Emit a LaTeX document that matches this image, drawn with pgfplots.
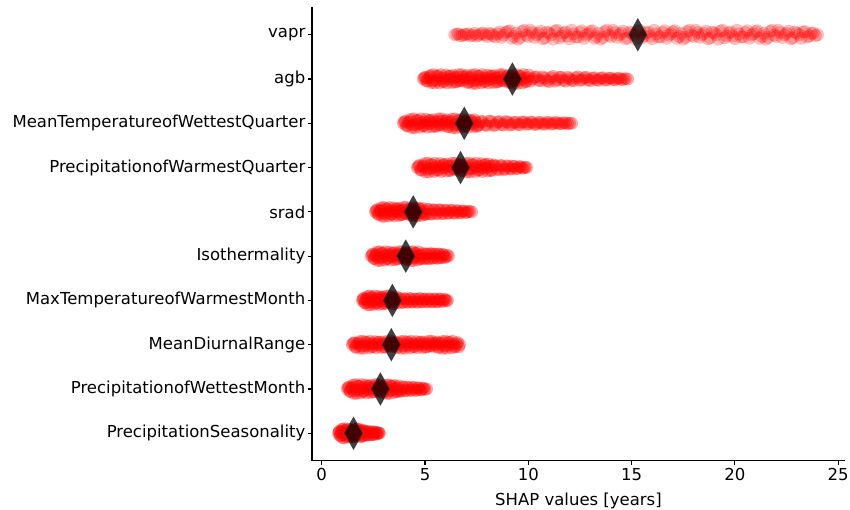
\documentclass[border=0pt]{standalone}
\usepackage{pgfplots}
\pgfplotsset{compat=1.18}
\usepackage{fontspec}
\setmainfont{DejaVu Sans}
\pgfplotsset{
  strip/.style={only marks, mark=*, mark size=6.2pt,
    mark options={draw=red, fill=red, fill opacity=0.33, draw opacity=0.12, line width=0.6pt}},
  lightstrip/.style={only marks, mark=*, mark size=6.2pt,
    mark options={draw=red, fill=red, fill opacity=0.24, draw opacity=0.14, line width=0.6pt}},
}
\begin{document}
\begin{tikzpicture}
\useasboundingbox (-312pt,-48.3pt) rectangle (538pt,460.7pt);
\begin{axis}[
  at={(0pt,0pt)}, anchor=south west,
  width=533pt, height=453.4pt, scale only axis,
  xmin=-0.47, xmax=25.33, ymin=-0.62, ymax=9.62,
  axis x line*=bottom, axis y line*=left,
  axis line style={black, line width=1.1pt, -},
  xtick={0,5,10,15,20,25},
  ytick={0,1,2,3,4,5,6,7,8,9},
  yticklabels={PrecipitationSeasonality, PrecipitationofWettestMonth, MeanDiurnalRange, MaxTemperatureofWarmestMonth, Isothermality, srad, PrecipitationofWarmestQuarter, MeanTemperatureofWettestQuarter, agb, vapr},
  tick align=outside, major tick length=4pt,
  every tick/.style={black, line width=1.1pt},
  tick label style={font=\fontsize{16.5}{19.8}\selectfont, black},
  yticklabel style={inner sep=2.5pt},
  /pgf/number format/assume math mode=true,
  xlabel={SHAP values [years]},
  xlabel style={font=\fontsize{16.5}{19.8}\selectfont, at={(axis description cs:0.5,0)}, anchor=base, yshift=-44.3pt, inner sep=0pt},
  clip=false,
]
% vapr
\addplot[lightstrip] coordinates {(6.44,9.00)(6.62,9.02)(6.8,8.98)(7.0,9.01)(7.2,8.97)(7.4,9.03)(7.6,8.99)(7.8,9.04)(8.0,8.96)(8.2,9.02)(8.4,8.95)(8.6,9.06)(8.8,8.99)(9.0,9.07)(9.2,8.92)(9.4,9.03)(9.6,8.94)(9.8,9.10)(10.0,8.96)(10.2,9.05)(10.4,9.00)(10.6,9.08)(10.8,8.93)(11.0,9.04)(11.2,8.90)(11.4,9.10)(11.6,8.97)(11.8,9.06)(12.0,8.91)(12.2,9.02)(12.4,8.95)(12.6,9.09)(12.8,8.99)(13.0,9.07)(13.2,8.92)(13.4,9.03)(13.6,8.94)(13.8,9.10)(14.0,8.96)(14.2,9.05)(14.4,9.00)(14.6,9.08)(14.8,8.93)(15.0,9.04)(15.2,8.90)(15.4,9.10)(15.6,8.97)(15.8,9.06)(16.0,8.91)(16.2,9.02)(16.4,8.95)(16.6,9.09)(16.8,8.99)(17.0,9.07)(17.2,8.92)(17.4,9.03)(17.6,8.94)(17.8,9.10)(18.0,8.96)(18.2,9.05)(18.4,9.00)(18.6,9.08)(18.8,8.93)(19.0,9.04)(19.2,8.90)(19.4,9.10)(19.6,8.97)(19.8,9.06)(20.0,8.91)(20.2,9.02)(20.4,8.95)(20.6,9.09)(20.8,8.99)(21.0,9.07)(21.2,8.92)(21.4,9.03)(21.6,8.94)(21.8,9.10)(22.0,8.96)(22.2,9.05)(22.4,9.00)(22.6,9.08)(22.8,8.93)(23.0,9.04)(23.2,8.92)(23.4,9.07)(23.6,8.97)(23.8,9.04)(24.0,9.00)};
\addplot[lightstrip] coordinates {(6.54,9.01)(6.72,8.98)(6.9,9.00)(7.1,9.02)(7.3,8.99)(7.5,8.97)(7.7,9.02)(7.9,9.00)(8.1,9.03)(8.3,8.98)(8.5,9.02)(8.7,8.94)(8.9,9.05)(9.1,9.09)(9.3,8.96)(9.5,8.90)(9.7,9.07)(9.9,8.99)(10.1,9.10)(10.3,8.94)(10.5,9.03)(10.7,8.91)(10.9,9.06)(11.1,9.00)(11.3,9.08)(11.5,8.93)(11.7,9.04)(11.9,8.97)(12.1,9.10)(12.3,8.95)(12.5,9.05)(12.7,8.92)(12.9,9.02)(13.1,9.09)(13.3,8.96)(13.5,8.90)(13.7,9.07)(13.9,8.99)(14.1,9.10)(14.3,8.94)(14.5,9.03)(14.7,8.91)(14.9,9.06)(15.1,9.00)(15.3,9.08)(15.5,8.93)(15.7,9.04)(15.9,8.97)(16.1,9.10)(16.3,8.95)(16.5,9.05)(16.7,8.92)(16.9,9.02)(17.1,9.09)(17.3,8.96)(17.5,8.90)(17.7,9.07)(17.9,8.99)(18.1,9.10)(18.3,8.94)(18.5,9.03)(18.7,8.91)(18.9,9.06)(19.1,9.00)(19.3,9.08)(19.5,8.93)(19.7,9.04)(19.9,8.97)(20.1,9.10)(20.3,8.95)(20.5,9.05)(20.7,8.92)(20.9,9.02)(21.1,9.09)(21.3,8.96)(21.5,8.90)(21.7,9.07)(21.9,8.99)(22.1,9.10)(22.3,8.94)(22.5,9.03)(22.7,8.91)(22.9,9.06)(23.1,9.00)(23.3,9.06)(23.5,8.95)(23.7,9.03)(23.9,8.98)};
% agb
\addplot[strip] coordinates {(4.92,8.00)(5.02,8.04)(5.12,7.95)(5.22,8.06)(5.32,7.92)(5.42,8.10)(5.52,7.97)(5.62,8.06)(5.72,7.91)(5.82,8.02)(5.92,7.95)(6.02,8.09)(6.12,7.99)(6.22,8.07)(6.32,7.92)(6.42,8.03)(6.52,7.94)(6.62,8.10)(6.72,7.96)(6.82,8.05)(6.92,8.00)(7.02,8.08)(7.12,7.93)(7.22,8.04)(7.32,7.90)(7.42,8.10)(7.52,7.97)(7.62,8.06)(7.72,7.91)(7.82,8.02)(7.92,7.95)(8.02,8.09)(8.12,7.99)(8.22,8.07)(8.32,7.92)(8.42,8.03)(8.52,7.94)(8.62,8.10)(8.72,7.96)(8.82,8.05)(8.92,8.00)(9.02,8.08)(9.12,7.93)(9.22,8.04)(9.32,7.90)(9.42,8.10)(9.52,7.97)(9.62,8.06)(9.72,7.91)(9.82,8.02)(9.92,7.95)(10.02,8.09)(10.2,8.00)(10.4,8.05)(10.6,7.96)(10.8,8.02)(11.0,7.94)(11.2,8.06)(11.4,7.98)(11.6,8.04)(11.8,7.95)(12.0,8.01)(12.2,7.96)(12.4,8.05)(12.6,7.98)(12.8,8.04)(13.0,7.96)(13.2,8.03)(13.4,7.97)(13.6,8.03)(13.8,7.98)(14.0,8.02)(14.2,7.98)(14.4,8.02)(14.6,7.99)(14.81,8.00)};
\addplot[strip] coordinates {(4.97,8.03)(5.07,7.96)(5.17,8.02)(5.27,8.08)(5.37,7.96)(5.47,7.91)(5.57,8.07)(5.67,7.99)(5.77,8.10)(5.87,7.94)(5.97,8.03)(6.07,7.91)(6.17,8.06)(6.27,8.00)(6.37,8.08)(6.47,7.93)(6.57,8.04)(6.67,7.97)(6.77,8.10)(6.87,7.95)(6.97,8.05)(7.07,7.92)(7.17,8.02)(7.27,8.09)(7.37,7.96)(7.47,7.90)(7.57,8.07)(7.67,7.99)(7.77,8.10)(7.87,7.94)(7.97,8.03)(8.07,7.91)(8.17,8.06)(8.27,8.00)(8.37,8.08)(8.47,7.93)(8.57,8.04)(8.67,7.97)(8.77,8.10)(8.87,7.95)(8.97,8.05)(9.07,7.92)(9.17,8.02)(9.27,8.09)(9.37,7.96)(9.47,7.90)(9.57,8.07)(9.67,7.99)(9.77,8.10)(9.87,7.94)(9.97,8.03)(10.1,7.95)(10.3,8.04)(10.5,7.97)(10.7,8.05)(10.9,7.96)(11.1,8.03)(11.3,7.95)(11.5,8.04)(11.7,7.97)(11.9,8.04)(12.1,7.97)(12.3,8.03)(12.5,7.97)(12.7,8.03)(12.9,7.98)(13.1,8.02)(13.3,7.98)(13.5,8.02)(13.7,7.98)(13.9,8.02)(14.1,7.99)(14.3,8.01)(14.5,7.99)(14.7,8.01)};
% MeanTemperatureofWettestQuarter
\addplot[strip] coordinates {(3.95,7.00)(4.05,7.05)(4.15,6.94)(4.25,7.04)(4.35,6.90)(4.45,7.10)(4.55,6.97)(4.65,7.06)(4.75,6.91)(4.85,7.02)(4.95,6.95)(5.05,7.09)(5.15,6.99)(5.25,7.07)(5.35,6.92)(5.45,7.03)(5.55,6.94)(5.65,7.10)(5.75,6.96)(5.85,7.05)(5.95,7.00)(6.05,7.08)(6.15,6.93)(6.25,7.04)(6.35,6.90)(6.45,7.10)(6.55,6.97)(6.65,7.06)(6.75,6.91)(6.85,7.02)(6.95,6.95)(7.05,7.08)(7.15,6.99)(7.25,7.06)(7.35,6.93)(7.45,7.03)(7.55,6.95)(7.7,7.04)(7.9,6.96)(8.1,7.05)(8.3,6.95)(8.5,7.03)(8.7,6.97)(8.9,7.04)(9.1,6.96)(9.3,7.02)(9.5,6.97)(9.7,7.03)(9.9,6.98)(10.1,7.03)(10.3,6.97)(10.5,7.02)(10.7,6.98)(10.9,7.02)(11.1,6.98)(11.3,7.02)(11.5,6.99)(11.7,7.01)(11.9,6.99)(12.1,7.00)};
\addplot[strip] coordinates {(4.0,7.03)(4.1,6.95)(4.2,7.02)(4.3,7.09)(4.4,6.96)(4.5,6.90)(4.6,7.07)(4.7,6.99)(4.8,7.10)(4.9,6.94)(5.0,7.03)(5.1,6.91)(5.2,7.06)(5.3,7.00)(5.4,7.08)(5.5,6.93)(5.6,7.04)(5.7,6.97)(5.8,7.10)(5.9,6.95)(6.0,7.05)(6.1,6.92)(6.2,7.02)(6.3,7.09)(6.4,6.96)(6.5,6.90)(6.6,7.07)(6.7,6.99)(6.8,7.10)(6.9,6.94)(7.0,7.03)(7.1,6.91)(7.2,7.06)(7.3,7.00)(7.4,7.08)(7.5,6.93)(7.6,6.96)(7.8,7.04)(8.0,6.95)(8.2,7.04)(8.4,6.96)(8.6,7.04)(8.8,6.96)(9.0,7.03)(9.2,6.97)(9.4,7.03)(9.6,6.97)(9.8,7.03)(10.0,6.98)(10.2,7.02)(10.4,6.98)(10.6,7.02)(10.8,6.98)(11.0,7.02)(11.2,6.99)(11.4,7.01)(11.6,6.99)(11.8,7.01)(12.0,7.00)};
% PrecipitationofWarmestQuarter
\addplot[strip] coordinates {(4.63,6.00)(4.73,6.05)(4.83,5.94)(4.93,6.04)(5.03,5.90)(5.13,6.10)(5.23,5.97)(5.33,6.06)(5.43,5.91)(5.53,6.02)(5.63,5.95)(5.73,6.09)(5.83,5.99)(5.93,6.07)(6.03,5.92)(6.13,6.03)(6.23,5.94)(6.33,6.10)(6.43,5.96)(6.53,6.05)(6.63,6.00)(6.73,6.08)(6.83,5.93)(6.93,6.04)(7.03,5.90)(7.13,6.10)(7.23,5.97)(7.33,6.06)(7.43,5.91)(7.53,6.02)(7.63,5.95)(7.73,6.09)(7.83,5.99)(7.93,6.07)(8.03,5.92)(8.13,6.03)(8.23,5.94)(8.33,6.06)(8.5,5.96)(8.65,6.05)(8.8,5.96)(8.95,6.04)(9.1,5.97)(9.25,6.03)(9.4,5.97)(9.55,6.02)(9.7,5.99)(9.85,6.01)(9.92,6.00)};
\addplot[strip] coordinates {(4.68,6.03)(4.78,5.95)(4.88,6.02)(4.98,6.09)(5.08,5.96)(5.18,5.90)(5.28,6.07)(5.38,5.99)(5.48,6.10)(5.58,5.94)(5.68,6.03)(5.78,5.91)(5.88,6.06)(5.98,6.00)(6.08,6.08)(6.18,5.93)(6.28,6.04)(6.38,5.97)(6.48,6.10)(6.58,5.95)(6.68,6.05)(6.78,5.92)(6.88,6.02)(6.98,6.09)(7.08,5.96)(7.18,5.90)(7.28,6.07)(7.38,5.99)(7.48,6.10)(7.58,5.94)(7.68,6.03)(7.78,5.91)(7.88,6.06)(7.98,6.00)(8.08,6.08)(8.18,5.93)(8.28,6.04)(8.42,6.04)(8.58,5.95)(8.72,6.04)(8.88,5.96)(9.02,6.03)(9.18,5.97)(9.32,6.03)(9.48,5.98)(9.62,6.02)(9.78,5.99)};
% srad
\addplot[strip] coordinates {(2.6,5.00)(2.68,5.05)(2.76,4.94)(2.84,5.04)(2.92,4.90)(3.0,5.10)(3.08,4.97)(3.16,5.06)(3.24,4.91)(3.32,5.02)(3.4,4.95)(3.48,5.09)(3.56,4.99)(3.64,5.07)(3.72,4.92)(3.8,5.03)(3.88,4.94)(3.96,5.10)(4.04,4.96)(4.12,5.05)(4.2,5.00)(4.28,5.08)(4.36,4.93)(4.44,5.04)(4.52,4.90)(4.6,5.09)(4.68,4.97)(4.76,5.06)(4.84,4.92)(4.92,5.02)(5.0,4.95)(5.12,5.06)(5.26,4.95)(5.4,5.05)(5.54,4.96)(5.68,5.05)(5.82,4.96)(5.96,5.04)(6.1,4.97)(6.24,5.04)(6.38,4.97)(6.52,5.03)(6.66,4.98)(6.8,5.02)(6.94,4.98)(7.08,5.01)(7.26,5.00)};
\addplot[strip] coordinates {(2.64,5.03)(2.72,4.95)(2.8,5.02)(2.88,5.09)(2.96,4.96)(3.04,4.90)(3.12,5.07)(3.2,4.99)(3.28,5.10)(3.36,4.94)(3.44,5.03)(3.52,4.91)(3.6,5.06)(3.68,5.00)(3.76,5.08)(3.84,4.93)(3.92,5.04)(4.0,4.97)(4.08,5.10)(4.16,4.95)(4.24,5.05)(4.32,4.92)(4.4,5.02)(4.48,5.09)(4.56,4.96)(4.64,4.91)(4.72,5.07)(4.8,4.99)(4.88,5.08)(4.96,4.94)(5.06,4.95)(5.19,5.05)(5.33,4.95)(5.47,5.04)(5.61,4.96)(5.75,5.04)(5.89,4.96)(6.03,5.03)(6.17,4.97)(6.31,5.03)(6.45,4.97)(6.59,5.02)(6.73,4.98)(6.87,5.02)(7.01,4.99)(7.16,5.01)};
% Isothermality
\addplot[strip] coordinates {(2.4,4.00)(2.48,4.05)(2.56,3.94)(2.64,4.04)(2.72,3.90)(2.8,4.10)(2.88,3.97)(2.96,4.06)(3.04,3.91)(3.12,4.02)(3.2,3.95)(3.28,4.09)(3.36,3.99)(3.44,4.07)(3.52,3.92)(3.6,4.03)(3.68,3.94)(3.76,4.10)(3.84,3.96)(3.92,4.05)(4.0,4.00)(4.08,4.08)(4.16,3.93)(4.24,4.04)(4.32,3.90)(4.4,4.10)(4.48,3.97)(4.56,4.06)(4.64,3.91)(4.72,4.02)(4.8,3.95)(4.9,4.06)(5.0,3.95)(5.1,4.05)(5.2,3.94)(5.3,4.05)(5.4,3.96)(5.5,4.04)(5.6,3.95)(5.7,4.04)(5.8,3.97)(5.9,4.03)(6.0,3.98)(6.14,4.00)};
\addplot[strip] coordinates {(2.44,4.03)(2.52,3.95)(2.6,4.02)(2.68,4.09)(2.76,3.96)(2.84,3.90)(2.92,4.07)(3.0,3.99)(3.08,4.10)(3.16,3.94)(3.24,4.03)(3.32,3.91)(3.4,4.06)(3.48,4.00)(3.56,4.08)(3.64,3.93)(3.72,4.04)(3.8,3.97)(3.88,4.10)(3.96,3.95)(4.04,4.05)(4.12,3.92)(4.2,4.02)(4.28,4.09)(4.36,3.96)(4.44,3.90)(4.52,4.07)(4.6,3.99)(4.68,4.10)(4.76,3.94)(4.84,4.03)(4.95,3.94)(5.05,4.05)(5.15,3.95)(5.25,4.06)(5.35,3.95)(5.45,4.05)(5.55,3.96)(5.65,4.05)(5.75,3.96)(5.85,4.04)(5.95,3.97)(6.07,4.02)};
% MaxTemperatureofWarmestMonth
\addplot[strip] coordinates {(1.97,3.00)(2.04,3.05)(2.11,2.94)(2.18,3.04)(2.25,2.90)(2.32,3.10)(2.39,2.97)(2.46,3.06)(2.53,2.91)(2.6,3.02)(2.67,2.95)(2.74,3.09)(2.81,2.99)(2.88,3.07)(2.95,2.92)(3.02,3.03)(3.09,2.94)(3.16,3.10)(3.23,2.96)(3.3,3.05)(3.37,3.00)(3.44,3.08)(3.51,2.93)(3.58,3.04)(3.7,2.95)(3.82,3.04)(3.94,2.96)(4.06,3.03)(4.18,2.96)(4.3,3.04)(4.42,2.97)(4.54,3.03)(4.66,2.96)(4.78,3.04)(4.9,2.97)(5.02,3.03)(5.14,2.97)(5.26,3.03)(5.38,2.97)(5.5,3.03)(5.62,2.97)(5.74,3.03)(5.86,2.98)(5.98,3.02)(6.09,3.00)};
\addplot[strip] coordinates {(2.0,3.03)(2.07,2.95)(2.14,3.02)(2.21,3.09)(2.28,2.96)(2.35,2.90)(2.42,3.07)(2.49,2.99)(2.56,3.10)(2.63,2.94)(2.7,3.03)(2.77,2.91)(2.84,3.06)(2.91,3.00)(2.98,3.08)(3.05,2.93)(3.12,3.04)(3.19,2.97)(3.26,3.10)(3.33,2.95)(3.4,3.05)(3.47,2.92)(3.54,3.02)(3.61,3.08)(3.76,3.04)(3.88,2.95)(4.0,3.04)(4.12,2.96)(4.24,3.04)(4.36,2.96)(4.48,3.03)(4.6,2.96)(4.72,3.04)(4.84,2.97)(4.96,3.03)(5.08,2.97)(5.2,3.03)(5.32,2.97)(5.44,3.03)(5.56,2.97)(5.68,3.03)(5.8,2.98)(5.92,3.02)(6.03,2.99)};
% MeanDiurnalRange
\addplot[strip] coordinates {(1.48,2.00)(1.58,2.04)(1.68,1.95)(1.78,2.03)(1.88,1.92)(1.98,2.08)(2.08,1.98)(2.18,2.05)(2.28,1.93)(2.38,2.02)(2.48,1.96)(2.58,2.07)(2.68,1.99)(2.78,2.06)(2.88,1.94)(2.98,2.02)(3.08,1.95)(3.18,2.08)(3.28,1.97)(3.38,2.04)(3.48,2.00)(3.58,2.06)(3.68,1.94)(3.78,2.03)(3.88,1.92)(3.98,2.08)(4.08,1.98)(4.18,2.05)(4.28,1.93)(4.38,2.02)(4.48,1.96)(4.58,2.07)(4.68,1.99)(4.78,2.06)(4.88,1.94)(4.98,2.02)(5.08,1.95)(5.18,2.08)(5.28,1.97)(5.38,2.04)(5.48,2.00)(5.58,2.06)(5.68,1.94)(5.78,2.03)(5.88,1.92)(5.98,2.08)(6.08,1.98)(6.18,2.05)(6.28,1.93)(6.38,2.02)(6.48,1.96)(6.58,2.05)(6.68,2.00)};
\addplot[strip] coordinates {(1.53,2.04)(1.63,1.94)(1.73,2.02)(1.83,2.07)(1.93,1.97)(2.03,1.92)(2.13,2.06)(2.23,1.99)(2.33,2.08)(2.43,1.95)(2.53,2.02)(2.63,1.93)(2.73,2.05)(2.83,2.00)(2.93,2.06)(3.03,1.94)(3.13,2.03)(3.23,1.98)(3.33,2.08)(3.43,1.96)(3.53,2.04)(3.63,1.94)(3.73,2.02)(3.83,2.07)(3.93,1.97)(4.03,1.92)(4.13,2.06)(4.23,1.99)(4.33,2.08)(4.43,1.95)(4.53,2.02)(4.63,1.93)(4.73,2.05)(4.83,2.00)(4.93,2.06)(5.03,1.94)(5.13,2.03)(5.23,1.98)(5.33,2.08)(5.43,1.96)(5.53,2.04)(5.63,1.94)(5.73,2.02)(5.83,2.07)(5.93,1.97)(6.03,1.92)(6.13,2.06)(6.23,1.99)(6.33,2.08)(6.43,1.95)(6.53,2.02)(6.63,1.95)};
% PrecipitationofWettestMonth
\addplot[strip] coordinates {(1.24,1.00)(1.32,1.05)(1.4,0.94)(1.48,1.04)(1.56,0.90)(1.64,1.10)(1.72,0.97)(1.8,1.06)(1.88,0.91)(1.96,1.02)(2.04,0.95)(2.12,1.09)(2.2,0.99)(2.28,1.07)(2.36,0.92)(2.44,1.03)(2.52,0.94)(2.6,1.10)(2.68,0.96)(2.76,1.05)(2.84,1.00)(2.92,1.08)(3.0,0.93)(3.08,1.04)(3.16,0.90)(3.24,1.09)(3.32,0.97)(3.4,1.06)(3.48,0.92)(3.56,1.02)(3.64,0.95)(3.72,1.07)(3.8,0.97)(3.92,1.05)(4.04,0.96)(4.16,1.04)(4.28,0.97)(4.4,1.04)(4.52,0.97)(4.64,1.03)(4.76,0.98)(4.88,1.02)(5.0,0.99)(5.08,1.00)};
\addplot[strip] coordinates {(1.28,1.03)(1.36,0.95)(1.44,1.02)(1.52,1.09)(1.6,0.96)(1.68,0.90)(1.76,1.07)(1.84,0.99)(1.92,1.10)(2.0,0.94)(2.08,1.03)(2.16,0.91)(2.24,1.06)(2.32,1.00)(2.4,1.08)(2.48,0.93)(2.56,1.04)(2.64,0.97)(2.72,1.10)(2.8,0.95)(2.88,1.05)(2.96,0.92)(3.04,1.02)(3.12,1.09)(3.2,0.96)(3.28,0.90)(3.36,1.07)(3.44,0.99)(3.52,1.08)(3.6,0.94)(3.68,1.03)(3.76,0.94)(3.86,0.96)(3.98,1.04)(4.1,0.96)(4.22,1.03)(4.34,0.97)(4.46,1.03)(4.58,0.97)(4.7,1.02)(4.82,0.98)(4.94,1.01)};
% PrecipitationSeasonality
\addplot[strip] coordinates {(0.81,0.00)(0.86,0.05)(0.91,-0.06)(0.96,0.04)(1.01,-0.10)(1.06,0.10)(1.11,-0.03)(1.16,0.06)(1.21,-0.09)(1.26,0.02)(1.31,-0.05)(1.36,0.09)(1.41,-0.01)(1.46,0.07)(1.51,-0.08)(1.56,0.03)(1.61,-0.06)(1.66,0.10)(1.71,-0.04)(1.76,0.05)(1.81,0.00)(1.86,0.08)(1.91,-0.07)(1.96,0.04)(2.01,-0.06)(2.09,0.05)(2.17,-0.04)(2.25,0.04)(2.33,-0.04)(2.41,0.03)(2.49,-0.03)(2.57,0.03)(2.65,-0.02)(2.73,0.01)(2.8,0.00)};
\addplot[strip] coordinates {(0.84,0.03)(0.89,-0.05)(0.94,0.02)(0.99,0.09)(1.04,-0.04)(1.09,-0.10)(1.14,0.07)(1.19,-0.01)(1.24,0.10)(1.29,-0.06)(1.34,0.03)(1.39,-0.09)(1.44,0.06)(1.49,0.00)(1.54,0.08)(1.59,-0.07)(1.64,0.04)(1.69,-0.03)(1.74,0.10)(1.79,-0.05)(1.84,0.05)(1.89,-0.08)(1.94,0.02)(1.99,0.07)(2.05,-0.04)(2.13,0.04)(2.21,-0.04)(2.29,0.03)(2.37,-0.03)(2.45,0.03)(2.53,-0.03)(2.61,0.02)(2.69,-0.01)(2.77,0.01)};
% means
\addplot[only marks, mark=diamond*, mark size=16pt,
  mark options={fill=black, fill opacity=0.74, draw=black!80, draw opacity=0.8, line width=0.8pt, xscale=0.75}]
  coordinates {(1.54,0)(2.84,1)(3.37,2)(3.42,3)(4.07,4)(4.43,5)(6.72,6)(6.9,7)(9.23,8)(15.3,9)};
\end{axis}
\end{tikzpicture}
\end{document}
